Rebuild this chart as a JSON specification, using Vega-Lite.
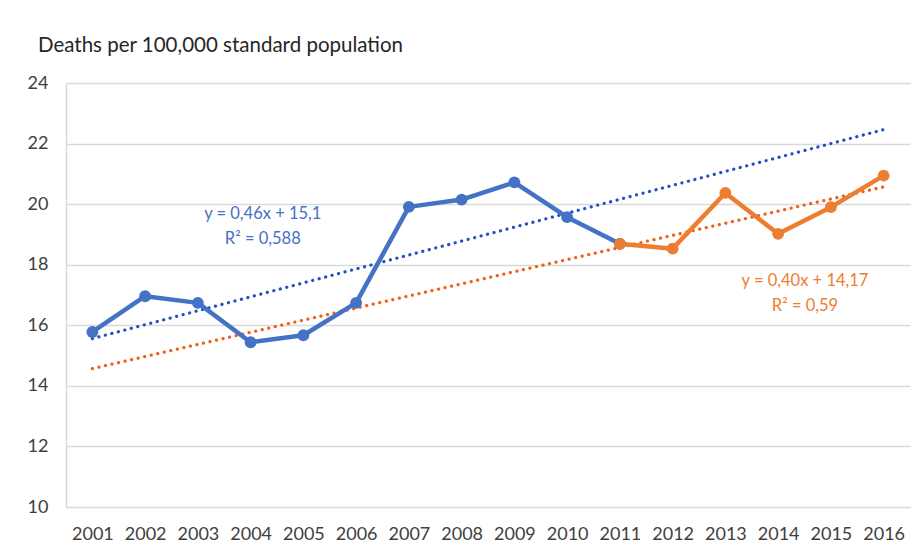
{
  "$schema": "https://vega.github.io/schema/vega-lite/v6.json",
  "width": 844,
  "height": 424,
  "autosize": {"type": "none"},
  "padding": {"left": 66, "top": 83, "right": 11, "bottom": 46},
  "background": "white",
  "config": {"font": "Lato", "view": {"stroke": null}},
  "title": {
    "text": "Deaths per 100,000 standard population",
    "anchor": "start",
    "frame": "group",
    "dx": -28,
    "offset": 18,
    "fontSize": 20.5,
    "fontWeight": "normal",
    "color": "#262626",
    "font": "Lato"
  },
  "datasets": {
    "rates": [
      {"year": 2001, "value": 15.78, "series": "Blue"},
      {"year": 2002, "value": 16.96, "series": "Blue"},
      {"year": 2003, "value": 16.74, "series": "Blue"},
      {"year": 2004, "value": 15.44, "series": "Blue"},
      {"year": 2005, "value": 15.67, "series": "Blue"},
      {"year": 2006, "value": 16.74, "series": "Blue"},
      {"year": 2007, "value": 19.91, "series": "Blue"},
      {"year": 2008, "value": 20.15, "series": "Blue"},
      {"year": 2009, "value": 20.72, "series": "Blue"},
      {"year": 2010, "value": 19.57, "series": "Blue"},
      {"year": 2011, "value": 18.69, "series": "Blue"},
      {"year": 2011, "value": 18.69, "series": "Orange"},
      {"year": 2012, "value": 18.53, "series": "Orange"},
      {"year": 2013, "value": 20.37, "series": "Orange"},
      {"year": 2014, "value": 19.02, "series": "Orange"},
      {"year": 2015, "value": 19.9, "series": "Orange"},
      {"year": 2016, "value": 20.94, "series": "Orange"}
    ],
    "trends": [
      {"year": 2001, "value": 15.56, "series": "Blue trend"},
      {"year": 2016, "value": 22.46, "series": "Blue trend"},
      {"year": 2001, "value": 14.57, "series": "Orange trend"},
      {"year": 2016, "value": 20.57, "series": "Orange trend"}
    ],
    "labels": [
      {"year": 2004.23, "value": 19.67, "series": "Blue", "label": "y = 0,46x + 15,1"},
      {"year": 2004.23, "value": 18.85, "series": "Blue", "label": "R² = 0,588"},
      {"year": 2014.51, "value": 17.46, "series": "Orange", "label": "y = 0,40x + 14,17"},
      {"year": 2014.51, "value": 16.64, "series": "Orange", "label": "R² = 0,59"}
    ]
  },
  "encoding": {
    "x": {
      "field": "year",
      "type": "quantitative",
      "scale": {"domain": [2000.5, 2016.5], "nice": false, "zero": false},
      "axis": {
        "values": [2001, 2002, 2003, 2004, 2005, 2006, 2007, 2008, 2009, 2010, 2011, 2012, 2013, 2014, 2015, 2016],
        "format": "d",
        "grid": false,
        "domain": false,
        "ticks": false,
        "labelFontSize": 18,
        "labelColor": "#404040",
        "labelPadding": 18,
        "labelFlush": false,
        "title": null
      }
    },
    "y": {
      "field": "value",
      "type": "quantitative",
      "scale": {"domain": [10, 24], "nice": false, "zero": false},
      "axis": {
        "values": [10, 12, 14, 16, 18, 20, 22, 24],
        "grid": true,
        "gridColor": "#d9d9d9",
        "gridWidth": 1.5,
        "domain": true,
        "domainColor": "#d9d9d9",
        "domainWidth": 1.5,
        "ticks": false,
        "labelFontSize": 18,
        "labelColor": "#404040",
        "labelPadding": 18,
        "title": null
      }
    },
    "color": {
      "field": "series",
      "type": "nominal",
      "scale": {
        "domain": ["Blue", "Orange", "Blue trend", "Orange trend"],
        "range": ["#4472C4", "#ED7D31", "#2350C0", "#F0601A"]
      },
      "legend": null
    }
  },
  "layer": [
    {
      "data": {"name": "trends"},
      "mark": {"type": "line", "strokeWidth": 3.2, "strokeDash": [0.1, 6.6], "strokeCap": "round"}
    },
    {
      "data": {"name": "rates"},
      "mark": {"type": "line", "strokeWidth": 4.5, "strokeJoin": "round"}
    },
    {
      "data": {"name": "rates"},
      "mark": {"type": "point", "filled": true, "opacity": 1, "size": 140}
    },
    {
      "data": {"name": "labels"},
      "mark": {"type": "text", "fontSize": 16.5, "align": "center", "baseline": "middle"},
      "encoding": {"text": {"field": "label"}}
    }
  ]
}
